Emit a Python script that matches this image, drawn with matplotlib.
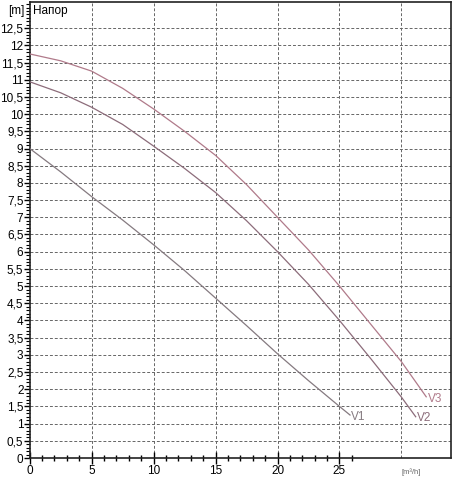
import numpy as np
import matplotlib
matplotlib.use("Agg")
import matplotlib.pyplot as plt
from matplotlib.ticker import MultipleLocator, FixedLocator

plt.rcParams['font.family'] = ['Liberation Sans', 'DejaVu Sans']

# flow [m3/h] and head [m]
q_v1 = [0, 2.5, 5, 7.5, 10, 12.5, 15, 17.5, 20, 22.5, 25, 25.85]
h_v1 = [9.0, 8.32, 7.6, 6.92, 6.2, 5.45, 4.65, 3.85, 3.03, 2.25, 1.5, 1.25]

q_v2 = [0, 2.5, 5, 7.5, 10, 12.5, 15, 17.5, 20, 22.5, 25, 27.5, 30, 31.15]
h_v2 = [10.94, 10.62, 10.2, 9.7, 9.07, 8.42, 7.72, 6.9, 6.0, 5.05, 4.0, 2.9, 1.77, 1.2]

q_v3 = [0, 2.5, 5, 7.5, 10, 12.5, 15, 17.5, 20, 22.5, 25, 27.5, 30, 32.0]
h_v3 = [11.75, 11.55, 11.25, 10.75, 10.15, 9.5, 8.8, 7.95, 7.0, 6.05, 5.0, 3.9, 2.8, 1.78]

curves = [("V1", q_v1, h_v1, "#857a80"),
          ("V2", q_v2, h_v2, "#8c6c7a"),
          ("V3", q_v3, h_v3, "#b07a8a")]

y_ticks = np.arange(0, 13.0, 0.5)
y_labels = [("%g" % v).replace(".", ",") for v in y_ticks]

fig = plt.figure(figsize=(4.53, 4.78), dpi=100)
ax = fig.add_axes([0.0656, 0.0418, 0.930, 0.954])

ax.set_xlim(0, 34)
ax.set_ylim(0, 13.26)

# grid
for gx in [5, 10, 15, 20, 25, 30]:
    ax.axvline(gx, color="#666666", lw=0.7, ls=(0, (3, 2)), zorder=1)
for gy in y_ticks[1:]:
    ax.axhline(gy, color="#666666", lw=0.7, ls=(0, (3, 2)), zorder=1)

for name, q, h, c in curves:
    ax.plot(q, h, color=c, lw=0.9, zorder=3)
    ax.text(q[-1] + 0.1, h[-1] - 0.05, name, color=c, fontsize=8.5,
            ha="left", va="center")

ax.xaxis.set_major_locator(FixedLocator([0, 5, 10, 15, 20, 25]))
ax.xaxis.set_minor_locator(FixedLocator(list(range(1, 27))))
ax.yaxis.set_major_locator(FixedLocator(list(y_ticks)))
ax.set_yticklabels(y_labels)
ax.yaxis.set_minor_locator(MultipleLocator(0.1))

ax.tick_params(axis="x", which="major", direction="inout", length=8, width=1,
               labelsize=8.5, pad=1)
ax.tick_params(axis="x", which="minor", direction="inout", length=5, width=1)
ax.tick_params(axis="y", which="major", direction="out", length=4, width=1,
               labelsize=8.5, pad=0.5)
ax.tick_params(axis="y", which="minor", direction="out", length=3, width=0.8)

for s in ax.spines.values():
    s.set_linewidth(1.2)
    s.set_color("#222222")

ax.text(-0.45, 13.0, "[m]", fontsize=8.5, ha="right", va="center",
        clip_on=False)
ax.text(0.3, 13.0, "Напор", fontsize=8.5, ha="left", va="center")
ax.text(30.8, -0.4, "[m³/h]", fontsize=5.5, color="#666666", ha="center",
        va="center", clip_on=False)

fig.savefig("out.png", dpi=100)
